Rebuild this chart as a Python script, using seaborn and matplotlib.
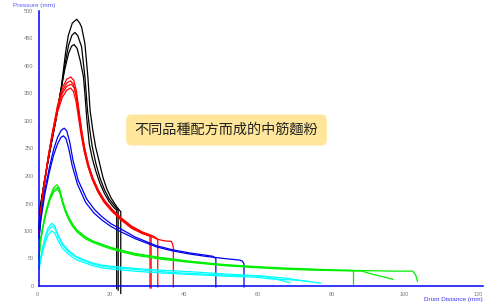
import matplotlib
matplotlib.use("Agg")
import matplotlib.pyplot as plt
import seaborn as sns
import pandas as pd

# ---------------- data ----------------
x_ticks = [0, 20, 40, 60, 80, 100, 120]
y_ticks = [0, 50, 100, 150, 200, 250, 300, 350, 400, 450, 500]
x_label = "Drum Distance (mm)"
y_label = "Pressure (mm)"
note = "不同品種配方而成的中筋麵粉"

# black group
K1_x = [0, 0.3, 1.5, 3, 4.5, 6, 7.2, 7.9, 9, 10.2, 11.0, 11.5, 12.4, 13.2, 13.8, 14.5, 15.3, 16.3, 17.3, 18.3, 19.5, 21, 22.1, 22.1]
K1_y = [100, 140, 192, 248, 300, 360, 425, 455, 478, 485, 478, 471, 441, 381, 320, 285, 253, 225, 197, 177, 160, 144, 135, -14]
K2_x = [0, 0.3, 1.5, 3, 4.5, 6, 7.2, 8, 8.9, 9.7, 10.5, 11.5, 12.4, 13.1, 13.7, 14.4, 15.4, 16.5, 17.7, 19, 20.3, 21.4, 21.4]
K2_y = [100, 140, 192, 248, 300, 358, 410, 438, 456, 461, 455, 435, 381, 320, 285, 253, 222, 196, 175, 158, 147, 138, -8]
K3_x = [0, 0.3, 1.5, 3, 4.5, 5.8, 7, 8, 8.8, 9.5, 10.3, 11.1, 12.0, 12.4, 12.9, 13.6, 14.4, 15.3, 16.4, 17.7, 19, 20.2, 21.0, 21.0]
K3_y = [105, 142, 192, 248, 300, 352, 395, 423, 436, 439, 432, 411, 381, 350, 305, 258, 232, 210, 188, 168, 153, 143, 138, -5]

# red group
R1_x = [0, 0.4, 1.2, 2.5, 3.5, 5, 6.3, 7.5, 8.6, 9.4, 10.1, 10.8, 11.5, 12.3, 13.3, 14.5, 16, 17.5, 19.5, 22, 25, 28, 30, 30]
R1_y = [95, 130, 175, 235, 275, 328, 360, 376, 380, 374, 355, 320, 285, 252, 222, 196, 173, 155, 139, 122, 106, 96, 91, -4]
R2_x = [0, 0.4, 1.2, 2.5, 3.5, 5, 6.3, 7.5, 8.5, 9.3, 10, 10.7, 11.4, 12.2, 13.2, 14.4, 15.9, 17.5, 19.5, 22, 25, 28, 30.3, 30.3]
R2_y = [95, 130, 175, 235, 273, 325, 355, 369, 373, 367, 348, 314, 280, 248, 219, 194, 171, 153, 137, 121, 105, 95, 90, -4]
R3_x = [0, 0.4, 1.2, 2.5, 3.5, 5, 6.3, 7.5, 8.7, 9.5, 10.2, 10.9, 11.6, 12.4, 13.4, 14.6, 16.1, 17.7, 19.7, 22.2, 25, 28, 30.5, 31.6, 32.1, 32.1]
R3_y = [97, 132, 177, 235, 272, 322, 350, 363, 367, 361, 343, 310, 278, 248, 220, 196, 174, 156, 140, 124, 109, 98, 92, 88, 85, -2]
R4_x = [0, 0.4, 1.2, 2.5, 3.5, 5, 6.3, 7.5, 8.5, 9.3, 10, 10.7, 11.4, 12.2, 13.2, 14.4, 15.9, 17.5, 19.5, 22, 25, 28, 32, 34, 35.8, 36.1, 36.3, 36.3]
R4_y = [93, 128, 172, 232, 268, 316, 343, 356, 360, 354, 336, 305, 274, 245, 218, 194, 172, 155, 139, 123, 108, 97, 85, 82, 81, 76, 70, -2]

# blue group
B1_x = [0, 0.5, 1.6, 2.8, 3.9, 5, 6, 6.8, 7.5, 8.3, 9.2, 10.6, 12.9, 15, 17, 19.5, 22.3, 26, 31.8, 36, 40.8, 44, 47, 47.8, 47.8]
B1_y = [88, 125, 175, 215, 247, 270, 283, 287, 282, 262, 228, 192, 158, 139, 126, 113, 103, 89, 73, 66, 60, 57, 54, 50, -2]
B2_x = [0, 0.5, 1.6, 2.8, 3.9, 5, 5.9, 6.6, 7.3, 8.1, 9.0, 10.4, 12.6, 14.8, 17, 19.5, 22.3, 26, 31.8, 36, 40.8, 45, 50, 54.3, 55.0, 55.4, 55.4]
B2_y = [85, 120, 168, 207, 237, 258, 270, 273, 268, 248, 218, 185, 152, 133, 120, 108, 98, 86, 71, 64, 58, 54, 50, 47, 45, 40, -2]

# green group
G1_x = [0, 0.3, 1, 2, 3, 4, 4.8, 5.5, 6.1, 7, 7.9, 9, 10.2, 12.4, 14.5, 16.9, 19.5, 22.3, 26, 32.7, 40.8, 50, 57, 65, 73, 80, 85, 85]
G1_y = [50, 80, 108, 140, 163, 179, 184, 178, 158, 140, 126, 113, 102, 90, 82, 76, 70, 65, 59, 52, 45, 39, 36, 33, 31, 29, 28, 3]
G2_x = [0, 0.3, 1, 2, 3, 4, 4.9, 5.6, 6.3, 7.1, 8, 9.1, 10.3, 12.5, 14.6, 17, 19.6, 22.4, 26, 32.7, 40.8, 50, 57, 65, 73, 80, 87.3, 90.3, 93.5, 95.7]
G2_y = [47, 76, 104, 135, 157, 171, 176, 170, 152, 135, 121, 108, 98, 86, 79, 73, 67, 62, 56, 49, 43, 37, 34, 31, 29, 28, 27, 21, 16, 12]
G3_x = [0, 0.3, 1, 2, 3, 4, 5.0, 5.7, 6.4, 7.2, 8.1, 9.2, 10.4, 12.6, 14.7, 17.1, 19.7, 22.5, 26, 32.7, 40.8, 50, 57, 65, 73, 80, 88, 95.7, 101, 101.8, 102.3]
G3_y = [48, 78, 106, 137, 160, 175, 179, 173, 155, 138, 124, 111, 100, 88, 81, 75, 69, 64, 58, 51, 44, 38, 35, 32, 30, 29, 28, 27, 27, 20, 8]

# cyan group
C1_x = [0, 0.4, 1, 1.6, 2.4, 3.4, 4.2, 5.2, 6.3, 7.9, 10, 12.4, 14.5, 16.9, 19.5, 22.3, 25.9, 30, 35, 40.8, 50, 58, 62, 65, 67.8]
C1_y = [33, 50, 70, 88, 105, 114, 110, 92, 78, 65, 54, 47, 42, 38, 36, 34, 32, 30, 28, 26, 22, 19, 16, 11, 6]
C2_x = [0, 0.4, 1, 1.6, 2.4, 3.5, 4.3, 5.3, 6.4, 8, 10.1, 12.5, 14.6, 17, 19.6, 22.4, 26, 30, 35, 40.8, 50, 60.6, 67, 70, 73]
C2_y = [32, 48, 67, 84, 100, 109, 105, 88, 74, 62, 52, 45, 40, 36, 34, 32, 30, 28, 25, 23, 20, 18, 14, 11, 8]
C3_x = [0, 0.4, 1, 1.6, 2.4, 3.4, 4.2, 5.2, 6.3, 7.9, 10, 12.4, 14.5, 16.9, 19.5, 22.3, 25.9, 30, 35, 40.8, 50, 58.8, 62.4, 66, 70.5, 73, 76.2]
C3_y = [30, 45, 62, 77, 92, 100, 97, 82, 69, 58, 48, 42, 37, 33, 31, 29, 27, 25, 23, 21, 18, 16, 13, 12, 10, 8, 5]

curves = [
    ("K1", "black", K1_x, K1_y), ("K2", "black", K2_x, K2_y), ("K3", "black", K3_x, K3_y),
    ("R1", "red", R1_x, R1_y), ("R2", "red", R2_x, R2_y), ("R3", "red", R3_x, R3_y), ("R4", "red", R4_x, R4_y),
    ("B1", "blue", B1_x, B1_y), ("B2", "blue", B2_x, B2_y),
    ("G1", "green", G1_x, G1_y), ("G2", "green", G2_x, G2_y), ("G3", "green", G3_x, G3_y),
    ("C1", "cyan", C1_x, C1_y), ("C2", "cyan", C2_x, C2_y), ("C3", "cyan", C3_x, C3_y),
]

rows = []
for name, grp, xs, ys in curves:
    for i, (xv, yv) in enumerate(zip(xs, ys)):
        rows.append({"curve": name, "group": grp, "order": i, "x": xv, "y": yv})
df = pd.DataFrame(rows)

palette = {"black": "#000000", "red": "#FF0000", "blue": "#0000EE",
           "green": "#00EE00", "cyan": "#00FFFF"}

# ---------------- figure ----------------
sns.set_theme(style="white")
plt.rcParams["font.family"] = ["Liberation Sans", "DejaVu Sans"]

W, H = 492, 308
fig = plt.figure(figsize=(W / 100, H / 100), dpi=100)
fig.patch.set_facecolor("white")
ax = fig.add_axes([39 / W, 22 / H, 444 / W, 275 / H])
ax.set_facecolor("white")

for name, grp, xs, ys in curves:
    sub = df[df["curve"] == name]
    sns.lineplot(data=sub, x="x", y="y", sort=False, estimator=None,
                 color=palette[grp], lw=0.9, ax=ax, legend=False)

for ln in ax.lines:
    ln.set_clip_on(False)

ax.set_xlim(0, 120)
ax.set_ylim(0, 500)
ax.set_xticks(x_ticks)
ax.set_yticks(y_ticks)
ax.set_xticklabels([str(v) for v in x_ticks], ha="right")
ax.set_yticklabels([str(v) for v in y_ticks])
ax.set_xlabel("")
ax.set_ylabel("")

for side in ["top", "right"]:
    ax.spines[side].set_visible(False)
for side in ["left", "bottom"]:
    ax.spines[side].set_color("#0000FF")
    ax.spines[side].set_linewidth(1.1)

ax.tick_params(axis="both", which="major", direction="out", length=2.5, width=0.9,
               color="#0000FF", labelcolor="#7A7A7A", labelsize=4, pad=1.5)
ax.tick_params(axis="x", pad=1.5)
ax.grid(False)

fig.text(13 / W, 1 - 5 / H, y_label, ha="left", va="center",
         fontsize=4.6, color="#5A5AF5")
fig.text(483 / W, 1 - 300 / H, x_label, ha="right", va="center",
         fontsize=4.6, color="#3A3AF0")

fig.text(226.5 / W, 1 - 130 / H, note, ha="center", va="center",
         fontsize=10.2, color="#222222",
         family=["Noto Sans CJK TC", "DejaVu Sans"],
         bbox=dict(boxstyle="round,pad=0.6,rounding_size=0.4",
                   facecolor="#FFE69A", edgecolor="none"))

fig.savefig("out.png", dpi=100)
